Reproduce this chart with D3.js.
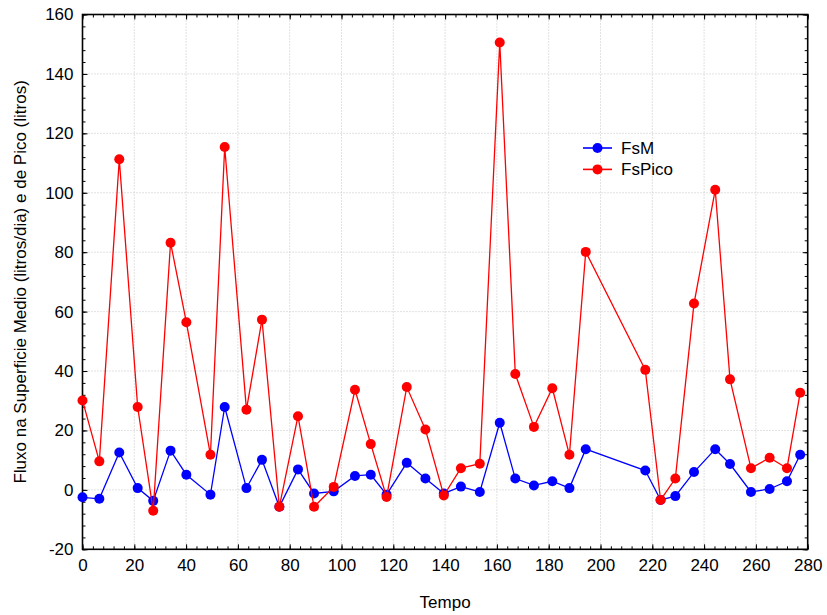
<!DOCTYPE html>
<html>
<head>
<meta charset="utf-8">
<script src="https://cdn.jsdelivr.net/npm/d3@7"></script>
<style>
  body { margin: 0; background: #fff; }
  svg { display: block; font-family: "Liberation Sans", Arial, sans-serif; }
</style>
</head>
<body>
<svg id="chart"></svg>
<script>
// tempo (dias) e valores
var tempo = [0, 6.5, 14.2, 21.3, 27.3, 34, 40.1, 49.4, 54.9, 63.3, 69.3, 76, 83.2, 89.4, 97,
  105.2, 111.3, 117.4, 125.2, 132.4, 139.5, 146.1, 153.4, 161.1, 167.1, 174.3, 181.4, 188, 194.3,
  217.3, 223.2, 228.9, 236.1, 244.3, 250, 258.1, 265.3, 272, 277.1];
var fsM = [-2.5, -3.0, 12.6, 0.6, -3.7, 13.2, 5.1, -1.6, 27.9, 0.6, 10.1, -5.7, 6.9, -1.2, -0.5,
  4.7, 5.1, -1.6, 9.1, 3.8, -1.2, 1.1, -0.7, 22.6, 3.8, 1.5, 2.9, 0.6, 13.7,
  6.5, -3.4, -2.1, 6.0, 13.7, 8.7, -0.7, 0.3, 2.9, 11.8];
var fsPico = [30.1, 9.6, 111.3, 27.9, -7.0, 83.2, 56.4, 11.8, 115.4, 27.0, 57.3, -5.7, 24.8, -5.7, 1.0,
  33.7, 15.4, -2.4, 34.6, 20.3, -1.9, 7.3, 8.8, 150.6, 39.0, 21.2, 34.2, 11.8, 80.1,
  40.4, -3.4, 3.8, 62.7, 101.0, 37.2, 7.3, 10.8, 7.3, 32.7];
var seriesNames = ["FsM", "FsPico"];
var xTicks = d3.range(0, 281, 20);
var yTicks = d3.range(-20, 161, 20);

var width = 827, height = 615;
var mLeft = 82.5, mRight = 807.7, mTop = 14.5, mBottom = 549.3;

var svg = d3.select("#chart")
  .attr("width", width)
  .attr("height", height);

var x = d3.scaleLinear().domain([0, 280]).range([mLeft, mRight]);
var y = d3.scaleLinear().domain([-20, 160]).range([mBottom, mTop]);

// grade pontilhada
var grid = svg.append("g");
grid.selectAll(".gx")
  .data(xTicks.slice(1, -1))
  .enter().append("line")
  .attr("x1", d => x(d)).attr("x2", d => x(d))
  .attr("y1", mTop).attr("y2", mBottom)
  .attr("stroke", "#c4c4c4").attr("stroke-width", 1)
  .attr("stroke-dasharray", "1,2");
grid.selectAll(".gy")
  .data(yTicks.slice(1, -1))
  .enter().append("line")
  .attr("x1", mLeft).attr("x2", mRight)
  .attr("y1", d => y(d)).attr("y2", d => y(d))
  .attr("stroke", "#c4c4c4").attr("stroke-width", 1)
  .attr("stroke-dasharray", "1,2");

// eixos com marcas para dentro
var minorX = d3.range(0, 281, 4);
var minorY = d3.range(-20, 161, 4);

function axisStyle(g) {
  g.select(".domain").remove();
  g.selectAll("line").attr("stroke", "#000");
}

svg.append("g").attr("transform", `translate(0,${mBottom})`)
  .call(d3.axisBottom(x).tickValues(minorX).tickSize(-3).tickFormat(""))
  .call(axisStyle);
svg.append("g").attr("transform", `translate(0,${mTop})`)
  .call(d3.axisTop(x).tickValues(minorX).tickSize(-3).tickFormat(""))
  .call(axisStyle);
svg.append("g").attr("transform", `translate(${mLeft},0)`)
  .call(d3.axisLeft(y).tickValues(minorY).tickSize(-3).tickFormat(""))
  .call(axisStyle);
svg.append("g").attr("transform", `translate(${mRight},0)`)
  .call(d3.axisRight(y).tickValues(minorY).tickSize(-3).tickFormat(""))
  .call(axisStyle);

var xAxis = svg.append("g").attr("transform", `translate(0,${mBottom})`)
  .call(d3.axisBottom(x).tickValues(xTicks).tickSize(-5).tickPadding(10).tickFormat(d => String(d)))
  .call(axisStyle);
xAxis.selectAll("text").attr("font-size", 17).attr("fill", "#000")
  .attr("font-family", "'Liberation Sans', Arial, sans-serif");

var yAxis = svg.append("g").attr("transform", `translate(${mLeft},0)`)
  .call(d3.axisLeft(y).tickValues(yTicks).tickSize(-5).tickPadding(9).tickFormat(d => String(d)))
  .call(axisStyle);
yAxis.selectAll("text").attr("font-size", 17).attr("fill", "#000")
  .attr("font-family", "'Liberation Sans', Arial, sans-serif");

svg.append("g").attr("transform", `translate(${mRight},0)`)
  .call(d3.axisRight(y).tickValues(yTicks).tickSize(-5).tickFormat(""))
  .call(axisStyle);
svg.append("g").attr("transform", `translate(0,${mTop})`)
  .call(d3.axisTop(x).tickValues(xTicks).tickSize(-5).tickFormat(""))
  .call(axisStyle);

// moldura
svg.append("rect")
  .attr("x", mLeft).attr("y", mTop)
  .attr("width", mRight - mLeft).attr("height", mBottom - mTop)
  .attr("fill", "none").attr("stroke", "#000").attr("stroke-width", 1.6);

// series
var colors = ["#0000ff", "#ff0000"];
var allSeries = [fsM, fsPico];
var line = d3.line().x((d, i) => x(tempo[i])).y(d => y(d));

allSeries.forEach(function(vals, k) {
  svg.append("path")
    .datum(vals)
    .attr("d", line)
    .attr("fill", "none")
    .attr("stroke", colors[k])
    .attr("stroke-width", 1.3);
  svg.append("g").selectAll("circle")
    .data(vals)
    .enter().append("circle")
    .attr("cx", (d, i) => x(tempo[i]))
    .attr("cy", d => y(d))
    .attr("r", 5)
    .attr("fill", colors[k]);
});

// legenda
var legend = svg.append("g").attr("transform", "translate(583,148)");
seriesNames.forEach(function(name, k) {
  var g = legend.append("g").attr("transform", `translate(0,${k * 21.4})`);
  g.append("line").attr("x1", 0).attr("x2", 29).attr("y1", 0).attr("y2", 0)
    .attr("stroke", colors[k]).attr("stroke-width", 1.6);
  g.append("circle").attr("cx", 14.5).attr("cy", 0).attr("r", 5).attr("fill", colors[k]);
  g.append("text").attr("x", 38).attr("y", 6).attr("font-size", 17).text(name);
});

// titulos dos eixos
svg.append("text")
  .attr("x", (mLeft + mRight) / 2).attr("y", 608)
  .attr("text-anchor", "middle").attr("font-size", 17)
  .text("Tempo");
svg.append("text")
  .attr("transform", `translate(26,${(mTop + mBottom) / 2}) rotate(-90)`)
  .attr("text-anchor", "middle").attr("font-size", 17)
  .text("Fluxo na Superficie Medio (litros/dia) e de Pico (litros)");
</script>
</body>
</html>
